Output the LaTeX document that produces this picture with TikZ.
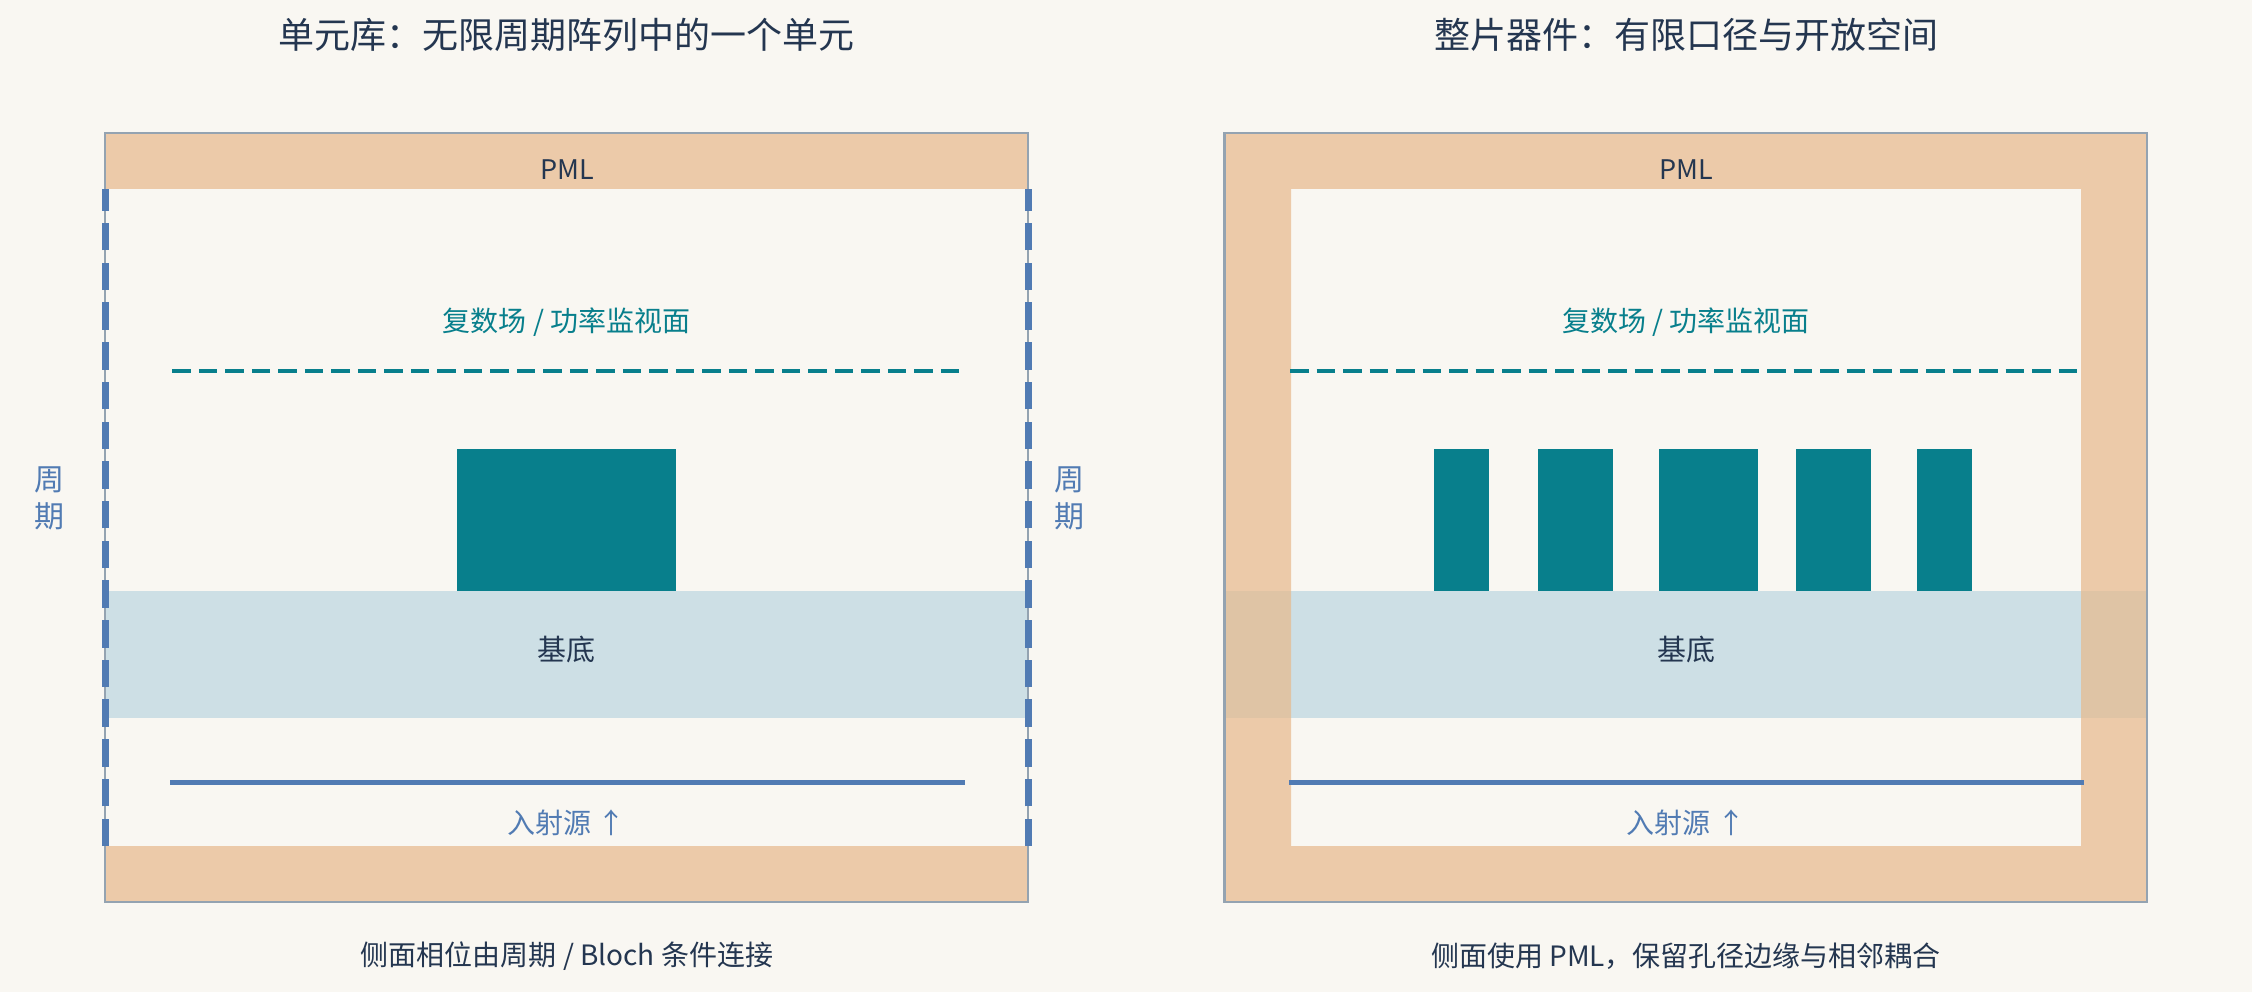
\documentclass[tikz,border=0pt]{standalone}
\usepackage{fontspec}
\setmainfont{Noto Sans CJK SC}
\definecolor{paper}{HTML}{F9F7F2}
\definecolor{ink}{HTML}{243650}
\definecolor{pmlfill}{HTML}{E7BA8D}
\definecolor{edge}{HTML}{94A3B1}
\definecolor{teal}{HTML}{087F8C}
\definecolor{bluesrc}{HTML}{517BB3}
\definecolor{subfill}{HTML}{CDDFE5}
\begin{document}
\begin{tikzpicture}[x=1pt,y=-1pt,
    title/.style={inner sep=0pt,text=ink,font=\fontsize{36}{40}\selectfont},
    lbl/.style={inner sep=0pt,text=ink,font=\fontsize{29}{33}\selectfont},
    note/.style={inner sep=0pt,text=ink,font=\fontsize{28}{32}\selectfont},
    pml/.style={fill=pmlfill,fill opacity=.72},
    subst/.style={fill=subfill},
    metal/.style={fill=teal},
    frame/.style={draw=edge,line width=2.5pt},
    bloch/.style={draw=bluesrc,line width=7pt,dash pattern=on 27.5pt off 12.2pt},
    monitor/.style={draw=teal,line width=4.7pt,dash pattern=on 18.5pt off 8pt},
    srcline/.style={draw=bluesrc,line width=5pt}]
  \useasboundingbox (0,0) rectangle (2252,992);
  \fill[paper] (0,0) rectangle (2252,992);

  \fill[subst] (105,591) rectangle (1028,718);
  \fill[metal] (457,449) rectangle (676,591);
  \fill[pml] (105,133) rectangle (1028,189);
  \fill[pml] (105,846) rectangle (1028,902);
  \draw[frame] (105,133) rectangle (1028,902);
  \draw[monitor] (172.3,371) -- (961,371);
  \draw[srcline] (170,782.5) -- (965,782.5);
  \draw[bloch] (105,846) -- (105,189);
  \draw[bloch] (1028,846) -- (1028,189);

  \fill[subst] (1224.4,591) rectangle (2147.2,718);
  \begin{scope}[metal]
    \fill (1434.1,449) rectangle (1488.7,591);
    \fill (1538.2,449) rectangle (1612.9,591);
    \fill (1658.9,449) rectangle (1758,591);
    \fill (1796,449) rectangle (1870.7,591);
    \fill (1916.7,449) rectangle (1972,591);
  \end{scope}
  \fill[pml,even odd rule] (1224.4,133) rectangle (2147.2,902)
    (1291.2,189) rectangle (2081.1,846);
  \draw[frame] (1224.4,133) rectangle (2147.2,902);
  \draw[monitor] (1290,371) -- (2081,371);
  \draw[srcline] (1289,782.5) -- (2084,782.5);

  \draw
    (566.5,35) node[title] (celltitle) {单元库：无限周期阵列中的一个单元}
    (567,170) node[lbl,font=\fontsize{27}{31}\selectfont] (cellpml) {PML}
    (566.5,322) node[lbl,text=teal,font=\fontsize{28}{32}\selectfont] (cellmon) {复数场 / 功率监视面}
    (566.5,649) node[lbl] (cellsub) {基底}
    (566.5,823) node[lbl,text=bluesrc,font=\fontsize{28}{32}\selectfont] (cellsrc) {入射源 ↑}
    (49.4,498.6) node[lbl,text=bluesrc,align=center,font=\fontsize{30}{37}\selectfont] (leftper) {周\\期}
    (1069.2,498.6) node[lbl,text=bluesrc,align=center,font=\fontsize{30}{37}\selectfont] (rightper) {周\\期}
    (567,956) node[note] (cellnote) {侧面相位由周期 / Bloch 条件连接};
  \draw
    (1686,35) node[title] (chiptitle) {整片器件：有限口径与开放空间}
    (1686,170) node[lbl,font=\fontsize{27}{31}\selectfont] (chippml) {PML}
    (1686,322) node[lbl,text=teal,font=\fontsize{28}{32}\selectfont] (chipmon) {复数场 / 功率监视面}
    (1686.5,649) node[lbl] (chipsub) {基底}
    (1686,823) node[lbl,text=bluesrc,font=\fontsize{28}{32}\selectfont] (chipsrc) {入射源 ↑}
    (1686,956) node[note] (chipnote) {侧面使用 PML，保留孔径边缘与相邻耦合};
\end{tikzpicture}
\end{document}
